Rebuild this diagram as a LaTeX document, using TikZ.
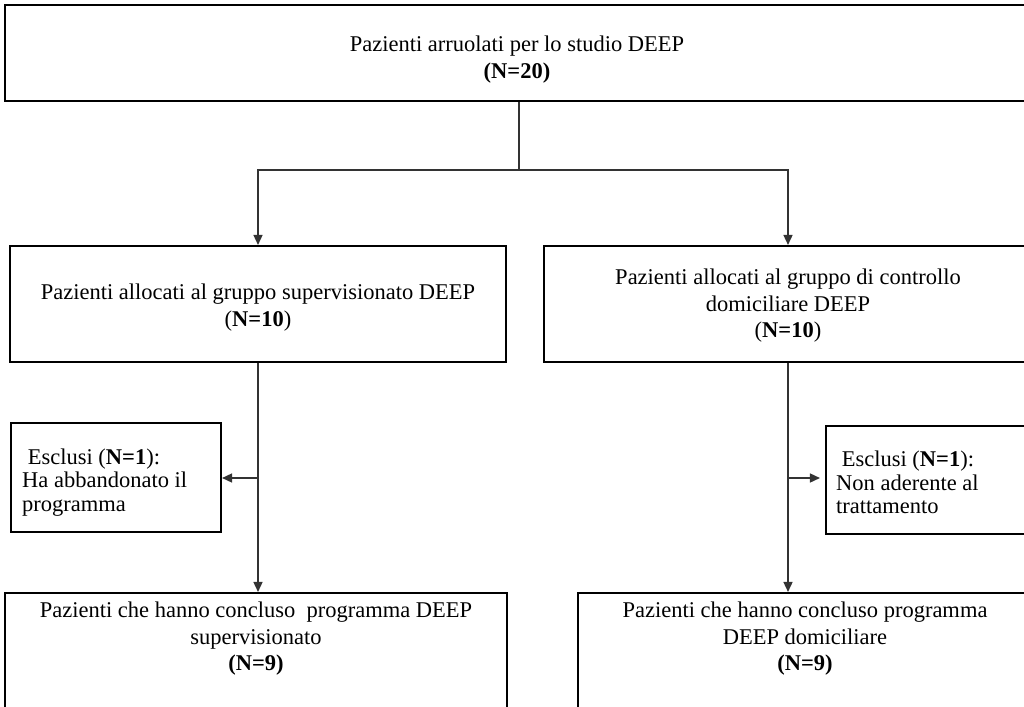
\documentclass[tikz,border=0pt]{standalone}
\usepackage{fontspec}
\setmainfont{Liberation Serif}
\usetikzlibrary{arrows.meta}
\tikzset{
  box/.style={draw=black, line width=2.1pt, rectangle, inner sep=0pt},
  txt/.style={align=center, inner sep=0pt, font=\fontsize{22.5}{26.5}\selectfont},
  exctxt/.style={align=left, inner sep=0pt, anchor=west, font=\fontsize{22.5}{23.5}\selectfont},
  link/.style={draw=black!80, line width=1.5pt},
  arr/.style={link, -{Triangle[length=10pt,width=9pt]}}
}
\begin{document}
\begin{tikzpicture}[x=1pt,y=-1pt]
  \useasboundingbox (0,0) rectangle (1024,706);
  \clip (0,0) rectangle (1024,706);
  \fill[white] (0,0) rectangle (1024,706);

  % boxes
  \node[box, minimum width=1025pt, minimum height=96pt] (top) at (517.5,53) {};
  \node[box, minimum width=496pt, minimum height=116pt] (midL) at (258,304) {};
  \node[box, minimum width=488pt, minimum height=116pt] (midR) at (788,304) {};
  \node[box, minimum width=210pt, minimum height=109pt] (exclL) at (116,477.5) {};
  \node[box, minimum width=210pt, minimum height=108pt] (exclR) at (931,480) {};
  \node[box, minimum width=502pt, minimum height=140pt] (botL) at (256,663) {};
  \node[box, minimum width=454pt, minimum height=140pt] (botR) at (805,663) {};

  % texts
  \node[txt] (topT) at (517,59.5) {Pazienti arruolati per lo studio DEEP\\\textbf{(N=20)}};
  \node[txt] (midLT) at (258,307.5) {Pazienti allocati al gruppo supervisionato DEEP\\(\textbf{N=10})};
  \node[txt] (midRT) at (788,306) {Pazienti allocati al gruppo di controllo\\domiciliare DEEP\\(\textbf{N=10})};
  \node[exctxt] (exclLT) at (22,482.5) {\ Esclusi (\textbf{N=1}):\\Ha abbandonato il\\programma};
  \node[exctxt] (exclRT) at (836,482.5) {\ Esclusi (\textbf{N=1}):\\Non aderente al\\trattamento};
  \node[txt] (botLT) at (256,639) {Pazienti che hanno concluso\ \ programma DEEP\\supervisionato\\\textbf{(N=9)}};
  \node[txt] (botRT) at (805,639) {Pazienti che hanno concluso programma\\DEEP domiciliare\\\textbf{(N=9)}};

  % connectors
  \coordinate (split) at (519,170);
  \coordinate (brL) at (258.5,478);
  \coordinate (brR) at (788,478);
  \draw[link] (top.south -| split) -- (split);
  \draw[arr] (split) -| (midL.north);
  \draw[arr] (split) -| (midR.north);
  \draw[arr] (midL.south) -- (midL.south |- botL.north);
  \draw[arr] (brL) -- (exclL.east |- brL);
  \draw[arr] (midR.south) -- (midR.south |- botR.north);
  \draw[arr, shorten >=5pt] (brR) -- (exclR.west |- brR);
\end{tikzpicture}
\end{document}
